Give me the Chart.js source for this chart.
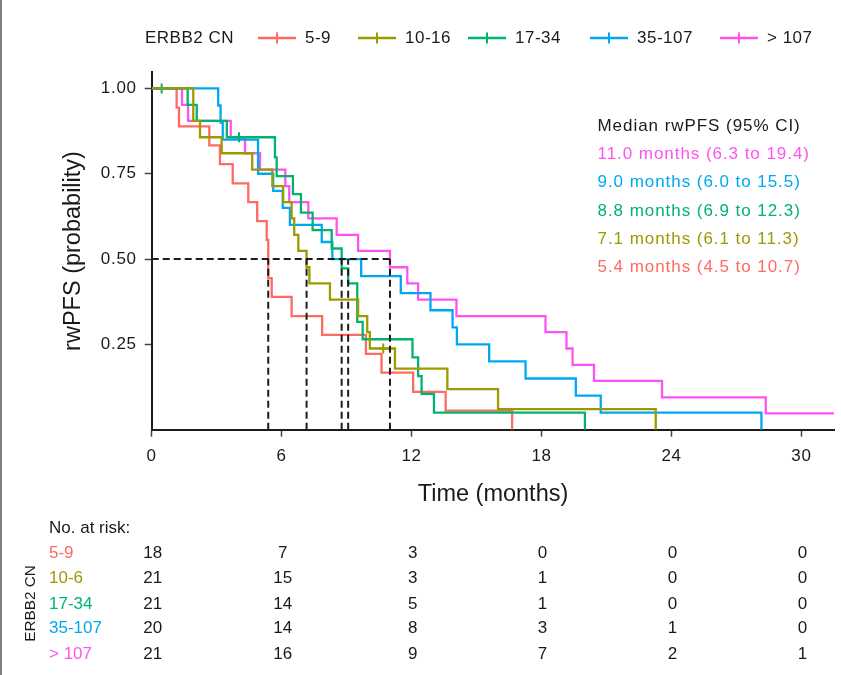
<!DOCTYPE html>
<html>
<head>
<meta charset="utf-8">
<script src="https://cdn.jsdelivr.net/npm/chart.js@4.4.1/dist/chart.umd.min.js"></script>
<style>
html,body{margin:0;padding:0;background:#fff;}
#wrap{width:841px;height:675px;position:relative;}
</style>
</head>
<body>
<div id="wrap"><canvas id="c" width="841" height="675"></canvas></div>
<script>
// ---------- data ----------
const groupNames = ['5-9', '10-16', '17-34', '35-107', '> 107'];
const riskRowLabels = ['5-9', '10-6', '17-34', '35-107', '> 107'];
const groupColors = ['#FF6A62', '#9C9A00', '#00B46E', '#00A8F3', '#FF52F0'];

const red_t = [0, 1.15, 1.26, 2.66, 3.15, 3.74, 4.46, 4.87, 5.31, 5.38, 5.54, 6.46, 7.87, 9.89, 10.61, 12.07, 13.57, 16.64];
const red_s = [1, 0.944, 0.889, 0.833, 0.778, 0.722, 0.667, 0.611, 0.556, 0.444, 0.389, 0.333, 0.278, 0.222, 0.167, 0.111, 0.056, 0];

const olive_t = [0, 1.92, 2.23, 3.23, 4.64, 5.57, 6.07, 6.46, 6.58, 6.77, 7.15, 7.28, 8.23, 9.53, 9.95, 10.07, 11.23, 13.65, 15.99, 23.27];
const olive_s = [1, 0.905, 0.857, 0.810, 0.762, 0.714, 0.667, 0.619, 0.571, 0.524, 0.476, 0.429, 0.381, 0.333, 0.286, 0.238, 0.179, 0.119, 0.060, 0];

const green_t = [0, 1.66, 2.08, 3.47, 5.69, 5.77, 6.52, 6.89, 7.43, 8.31, 8.77, 9.07, 9.49, 9.74, 12.04, 12.30, 12.46, 13.03, 20.0];
const green_s = [1, 0.952, 0.905, 0.857, 0.798, 0.743, 0.690, 0.636, 0.585, 0.531, 0.473, 0.429, 0.316, 0.265, 0.212, 0.157, 0.105, 0.050, 0];

const blue_t = [0, 3.07, 3.18, 3.28, 4.91, 5.61, 6.05, 6.38, 7.85, 8.34, 9.67, 11.5, 12.87, 13.89, 14.09, 15.58, 17.26, 19.58, 20.73, 28.15];
const blue_s = [1, 0.95, 0.90, 0.85, 0.75, 0.70, 0.65, 0.60, 0.55, 0.50, 0.45, 0.40, 0.35, 0.30, 0.25, 0.20, 0.15, 0.10, 0.05, 0];

const magenta_t = [0, 1.40, 1.68, 3.65, 4.31, 5.0, 6.17, 6.35, 7.23, 8.54, 9.53, 11.0, 11.8, 12.3, 14.07, 18.18, 19.15, 19.43, 20.42, 23.56, 28.35, 31.5];
const magenta_s = [1, 0.952, 0.905, 0.857, 0.810, 0.762, 0.714, 0.667, 0.619, 0.571, 0.524, 0.476, 0.429, 0.381, 0.333, 0.286, 0.238, 0.190, 0.143, 0.095, 0.048, 0.048];

// censoring marks
const olive_cens_t = [10.69];
const olive_cens_s = [0.238];
const green_cens_t = [0.46, 4.03];
const green_cens_s = [1, 0.857];

// medians (dashed reference lines), in group order
const median_lines = [5.38, 7.15, 8.77, 9.07, 11.0];
const median_est = [5.4, 7.1, 8.8, 9.0, 11.0];
const median_lo = [4.5, 6.1, 6.9, 6.0, 6.3];
const median_hi = [10.7, 11.3, 12.3, 15.5, 19.4];

// axis ticks
const xTicks = [0, 6, 12, 18, 24, 30];
const yTicks = [0.25, 0.50, 0.75, 1.00];

// numbers at risk (rows by group, columns by xTicks)
const risk_red = [18, 7, 3, 0, 0, 0];
const risk_olive = [21, 15, 3, 1, 0, 0];
const risk_green = [21, 14, 5, 1, 0, 0];
const risk_blue = [20, 14, 8, 3, 1, 0];
const risk_magenta = [21, 16, 9, 7, 2, 1];

// ---------- build ----------
const curves = [
  {t: red_t, s: red_s, order: 5},
  {t: olive_t, s: olive_s, order: 1},
  {t: green_t, s: green_s, order: 2},
  {t: blue_t, s: blue_s, order: 3},
  {t: magenta_t, s: magenta_s, order: 4}
];
const censors = [null, {t: olive_cens_t, s: olive_cens_s}, {t: green_cens_t, s: green_cens_s}, null, null];
const riskRows = [risk_red, risk_olive, risk_green, risk_blue, risk_magenta];

const datasets = [];
// dashed median lines
const medPts = [{x: 0, y: 0.5}, {x: Math.max(...median_lines), y: 0.5}];
median_lines.forEach(m => { medPts.push({x: m, y: null}); medPts.push({x: m, y: 0}); medPts.push({x: m, y: 0.5}); });
datasets.push({
  type: 'line', data: medPts, borderColor: '#1c1c1c', borderWidth: 2, borderDash: [7, 4],
  pointRadius: 0, spanGaps: false, fill: false, tension: 0, order: 0
});
curves.forEach((c, i) => {
  datasets.push({
    type: 'line', label: groupNames[i],
    data: c.t.map((x, k) => ({x: x, y: c.s[k]})),
    stepped: true, borderColor: groupColors[i], borderWidth: 2.3,
    pointRadius: 0, fill: false, tension: 0, order: c.order
  });
  if (censors[i]) {
    datasets.push({
      type: 'scatter',
      data: censors[i].t.map((x, k) => ({x: x, y: censors[i].s[k]})),
      pointStyle: 'cross', pointRadius: 5, borderColor: groupColors[i], borderWidth: 2,
      order: c.order - 0.5
    });
  }
});

const MAIN = '"Liberation Sans", Arial, Helvetica, sans-serif';

const annot = {
  id: 'annot',
  beforeDraw(chart) {
    chart.ctx.letterSpacing = '0.7px';
  },
  afterDraw(chart) {
    const ctx = chart.ctx;
    const xs = chart.scales.x;
    ctx.save();
    // left frame line
    ctx.strokeStyle = '#555'; ctx.lineWidth = 1.5;
    ctx.beginPath(); ctx.moveTo(1, 0); ctx.lineTo(1, 675); ctx.stroke();

    ctx.fillStyle = '#1a1a1a';
    ctx.textBaseline = 'middle';
    // axis titles
    ctx.letterSpacing = '0px';
    ctx.font = '23.5px ' + MAIN;
    ctx.textAlign = 'center';
    ctx.fillText('Time (months)', 493, 495);
    ctx.save();
    ctx.translate(74, 251); ctx.rotate(-Math.PI / 2);
    ctx.fillText('rwPFS (probability)', 0, 0);
    ctx.restore();

    // legend
    ctx.letterSpacing = '0.5px';
    ctx.font = '17px ' + MAIN;
    ctx.textAlign = 'left';
    ctx.fillStyle = '#1a1a1a';
    ctx.fillText('ERBB2 CN', 145, 38);
    const legX = [258, 358, 468, 590, 720];
    groupNames.forEach((g, i) => {
      const x0 = legX[i], x1 = x0 + 38, xm = (x0 + x1) / 2;
      ctx.strokeStyle = groupColors[i]; ctx.lineWidth = 2.6;
      ctx.beginPath(); ctx.moveTo(x0, 38); ctx.lineTo(x1, 38); ctx.stroke();
      ctx.lineWidth = 2;
      ctx.beginPath(); ctx.moveTo(xm, 32.5); ctx.lineTo(xm, 43.5); ctx.stroke();
      ctx.fillStyle = '#1a1a1a';
      ctx.fillText(g, x1 + 9, 38);
    });

    // median text block
    ctx.font = '17px ' + MAIN;
    ctx.letterSpacing = '0.95px';
    ctx.fillStyle = '#1a1a1a';
    ctx.fillText('Median rwPFS (95% CI)', 597.5, 126.5);
    const orderTxt = [4, 3, 2, 1, 0];
    orderTxt.forEach((gi, r) => {
      ctx.fillStyle = groupColors[gi];
      ctx.fillText(median_est[gi].toFixed(1) + ' months (' + median_lo[gi].toFixed(1) + ' to ' + median_hi[gi].toFixed(1) + ')', 597.5, 154.5 + r * 28.3);
    });

    // risk table
    ctx.letterSpacing = '0px';
    ctx.font = '17px ' + MAIN;
    ctx.fillStyle = '#1a1a1a';
    ctx.textAlign = 'left';
    ctx.fillText('No. at risk:', 49, 528);
    const rowY = [553, 578.3, 604, 628.5, 654];
    riskRows.forEach((row, i) => {
      ctx.textAlign = 'left';
      ctx.fillStyle = groupColors[i];
      ctx.fillText(riskRowLabels[i], 49, rowY[i]);
      ctx.textAlign = 'center';
      ctx.fillStyle = '#1a1a1a';
      row.forEach((v, k) => ctx.fillText(String(v), xs.getPixelForValue(xTicks[k]) + 1, rowY[i]));
    });
    ctx.save();
    ctx.font = '15.3px ' + MAIN;
    ctx.translate(31, 603.5); ctx.rotate(-Math.PI / 2);
    ctx.textAlign = 'center';
    ctx.fillStyle = '#1a1a1a';
    ctx.fillText('ERBB2 CN', 0, 0);
    ctx.restore();
    ctx.restore();
  }
};

new Chart(document.getElementById('c'), {
  type: 'line',
  data: {datasets: datasets},
  options: {
    responsive: false,
    devicePixelRatio: 1,
    animation: false,
    events: [],
    layout: {padding: {top: 71.7, right: 7, bottom: 0, left: 0}},
    plugins: {legend: {display: false}, tooltip: {enabled: false}, title: {display: false}},
    scales: {
      x: {
        type: 'linear', min: 0, max: 31.5,
        afterBuildTicks: s => { s.ticks = xTicks.map(v => ({value: v})); },
        afterFit: s => { s.height = 245.3; },
        ticks: {color: '#1a1a1a', font: {size: 17, family: MAIN}, padding: 9, maxRotation: 0, autoSkip: false,
                callback: v => String(v)},
        grid: {drawOnChartArea: false, drawTicks: true, tickLength: 7, tickWidth: 1.5, tickColor: '#444'},
        border: {display: true, color: '#1c1c1c', width: 2}
      },
      y: {
        type: 'linear', min: 0, max: 1.049,
        afterBuildTicks: s => { s.ticks = yTicks.map(v => ({value: v})); },
        afterFit: s => { s.width = 151.7; },
        ticks: {color: '#1a1a1a', font: {size: 17, family: MAIN}, padding: 8, callback: v => Number(v).toFixed(2)},
        grid: {drawOnChartArea: false, drawTicks: true, tickLength: 7, tickWidth: 1.5, tickColor: '#444'},
        border: {display: true, color: '#1c1c1c', width: 2}
      }
    }
  },
  plugins: [annot]
});
</script>
</body>
</html>
